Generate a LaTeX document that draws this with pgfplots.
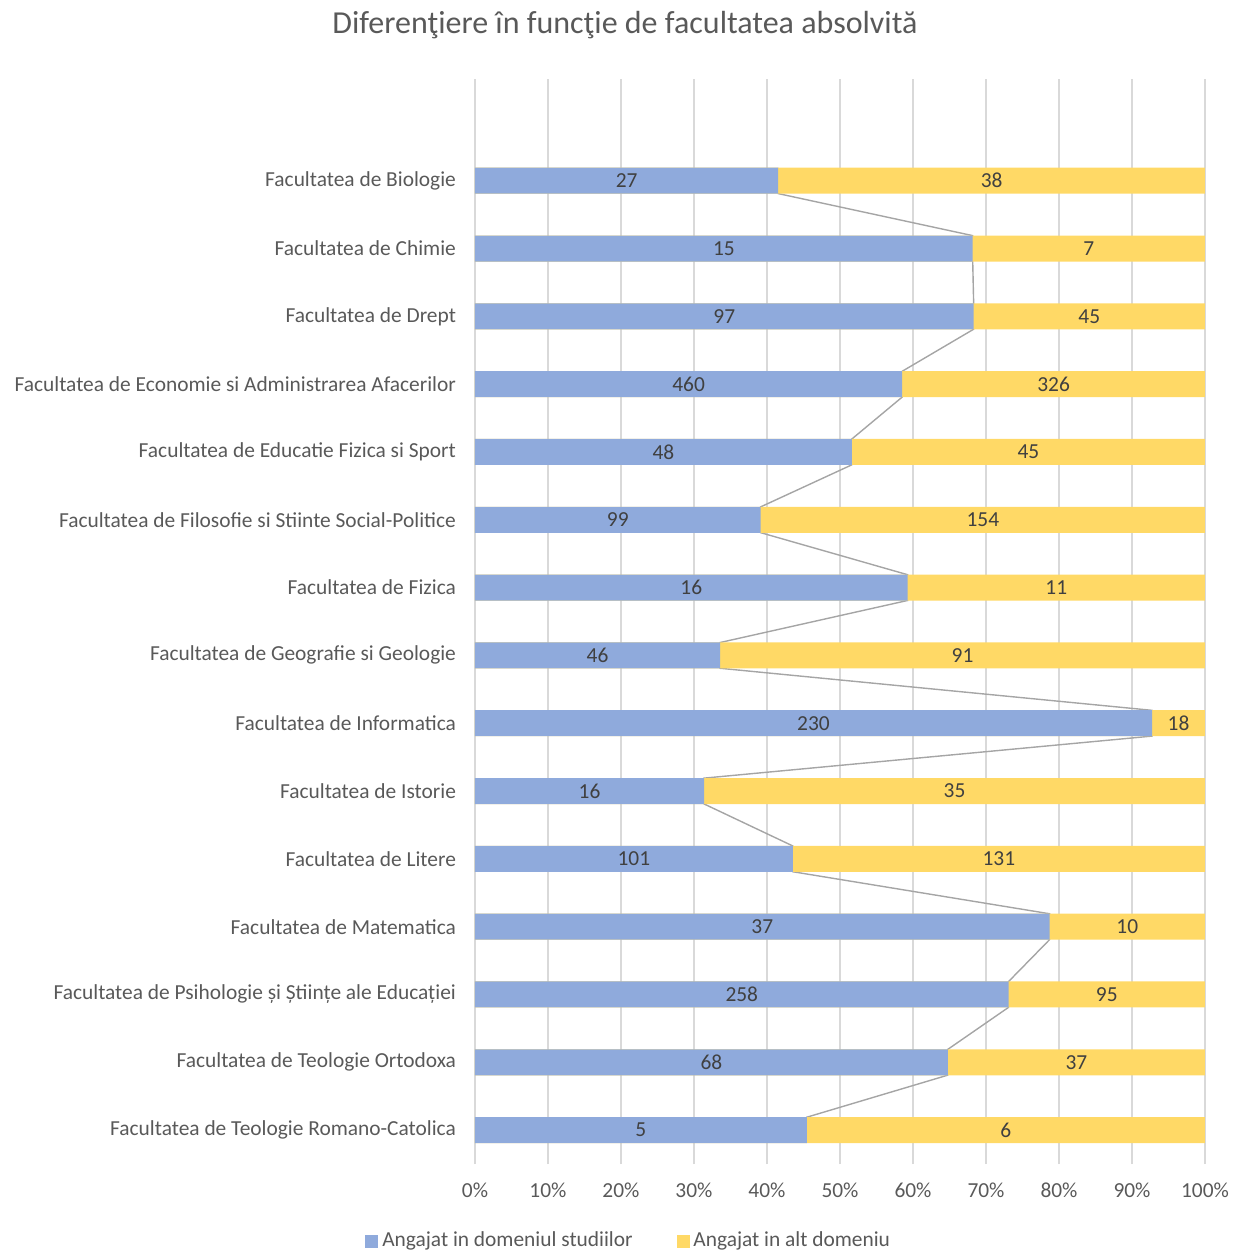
\documentclass[border=0pt]{standalone}
\usepackage{pgfplots}
\pgfplotsset{compat=1.18}
\usepackage{pgfplotstable}
\usepackage{fontspec}
\setmainfont{Carlito}

\definecolor{barblue}{HTML}{8FAADC}
\definecolor{baryellow}{HTML}{FFD966}
\definecolor{txtgray}{HTML}{595959}
\definecolor{lblgray}{HTML}{404040}
\definecolor{gridgray}{HTML}{D9D9D9}
\definecolor{linegray}{HTML}{A5A5A5}

% a = angajat in domeniul studiilor, b = angajat in alt domeniu
\pgfplotstableread{
y a b
14 27 38
13 15 7
12 97 45
11 460 326
10 48 45
9 99 154
8 16 11
7 46 91
6 230 18
5 16 35
4 101 131
3 37 10
2 258 95
1 68 37
0 5 6
}\data

% series line: top and bottom edge of each bar
\pgfplotstableread{
y a b
14.19 27 38
13.81 27 38
13.19 15 7
12.81 15 7
12.19 97 45
11.81 97 45
11.19 460 326
10.81 460 326
10.19 48 45
9.81 48 45
9.19 99 154
8.81 99 154
8.19 16 11
7.81 16 11
7.19 46 91
6.81 46 91
6.19 230 18
5.81 230 18
5.19 16 35
4.81 16 35
4.19 101 131
3.81 101 131
3.19 37 10
2.81 37 10
2.19 258 95
1.81 258 95
1.19 68 37
0.81 68 37
0.19 5 6
-0.19 5 6
}\edges

\newcommand\lblfont{\fontsize{10.7}{13}\selectfont}

\begin{document}
\begin{tikzpicture}
\useasboundingbox (-237.5pt,-44.5pt) rectangle (378.5pt,582pt);
\begin{axis}[
    scale only axis,
    width=365pt, height=542.5pt,
    xmin=0, xmax=100,
    ymin=-0.5, ymax=15.5,
    xtick={0,10,...,100},
    xticklabel={\pgfmathprintnumber{\tick}\%},
    ytick={0,...,14},
    yticklabels={Facultatea de Teologie Romano-Catolica,
        Facultatea de Teologie Ortodoxa,
        Facultatea de Psihologie și Științe ale Educației,
        Facultatea de Matematica,
        Facultatea de Litere,
        Facultatea de Istorie,
        Facultatea de Informatica,
        Facultatea de Geografie si Geologie,
        Facultatea de Fizica,
        Facultatea de Filosofie si Stiinte Social-Politice,
        Facultatea de Educatie Fizica si Sport,
        Facultatea de Economie si Administrarea Afacerilor,
        Facultatea de Drept,
        Facultatea de Chimie,
        Facultatea de Biologie},
    /pgf/number format/assume math mode=true,
    tick style={draw=none},
    xmajorgrids,
    grid style={gridgray, line width=0.8pt},
    axis line style={draw=none},
    ticklabel style={font=\lblfont, text=txtgray},
    xticklabel style={yshift=-6pt},
    yticklabel style={xshift=-6pt},
    legend style={at={(0.212,-0.071)}, anchor=center, draw=none,
        legend columns=2, font=\lblfont, text=txtgray,
        /tikz/every even column/.append style={column sep=20pt}},
    legend cell align=left,
]
% series line (behind the bars)
\addplot[linegray, line width=0.7pt, forget plot] table[
    x expr={100*\thisrow{a}/(\thisrow{a}+\thisrow{b})}, y=y] {\edges};
% yellow part (full width, blue drawn over it)
\addplot[xbar, bar shift=0pt, bar width=0.383, fill=baryellow, draw=none, forget plot]
    table[x expr={100}, y=y] {\data};
\addplot[xbar, bar shift=0pt, bar width=0.383, fill=barblue, draw=none, forget plot]
    table[x expr={100*\thisrow{a}/(\thisrow{a}+\thisrow{b})}, y=y] {\data};
% data labels
\addplot[only marks, mark=none, forget plot,
    point meta=explicit symbolic,
    nodes near coords,
    every node near coord/.style={anchor=center, text=lblgray, font=\lblfont}]
    table[x expr={50*\thisrow{a}/(\thisrow{a}+\thisrow{b})}, y=y, meta=a] {\data};
\addplot[only marks, mark=none, forget plot,
    point meta=explicit symbolic,
    nodes near coords,
    every node near coord/.style={anchor=center, text=lblgray, font=\lblfont}]
    table[x expr={50+50*\thisrow{a}/(\thisrow{a}+\thisrow{b})}, y=y, meta=b] {\data};
% legend entries
\addlegendimage{legend image code/.code={\fill[barblue] (0pt,-3pt) rectangle (6pt,3pt);}}
\addlegendentry{Angajat in domeniul studiilor}
\addlegendimage{legend image code/.code={\fill[baryellow] (0pt,-3pt) rectangle (6pt,3pt);}}
\addlegendentry{Angajat in alt domeniu}
\end{axis}
\node[text=txtgray, font=\fontsize{16}{19}\selectfont] at (75pt,569.5pt)
    {Diferenţiere în funcţie de facultatea absolvită};
\end{tikzpicture}
\end{document}
